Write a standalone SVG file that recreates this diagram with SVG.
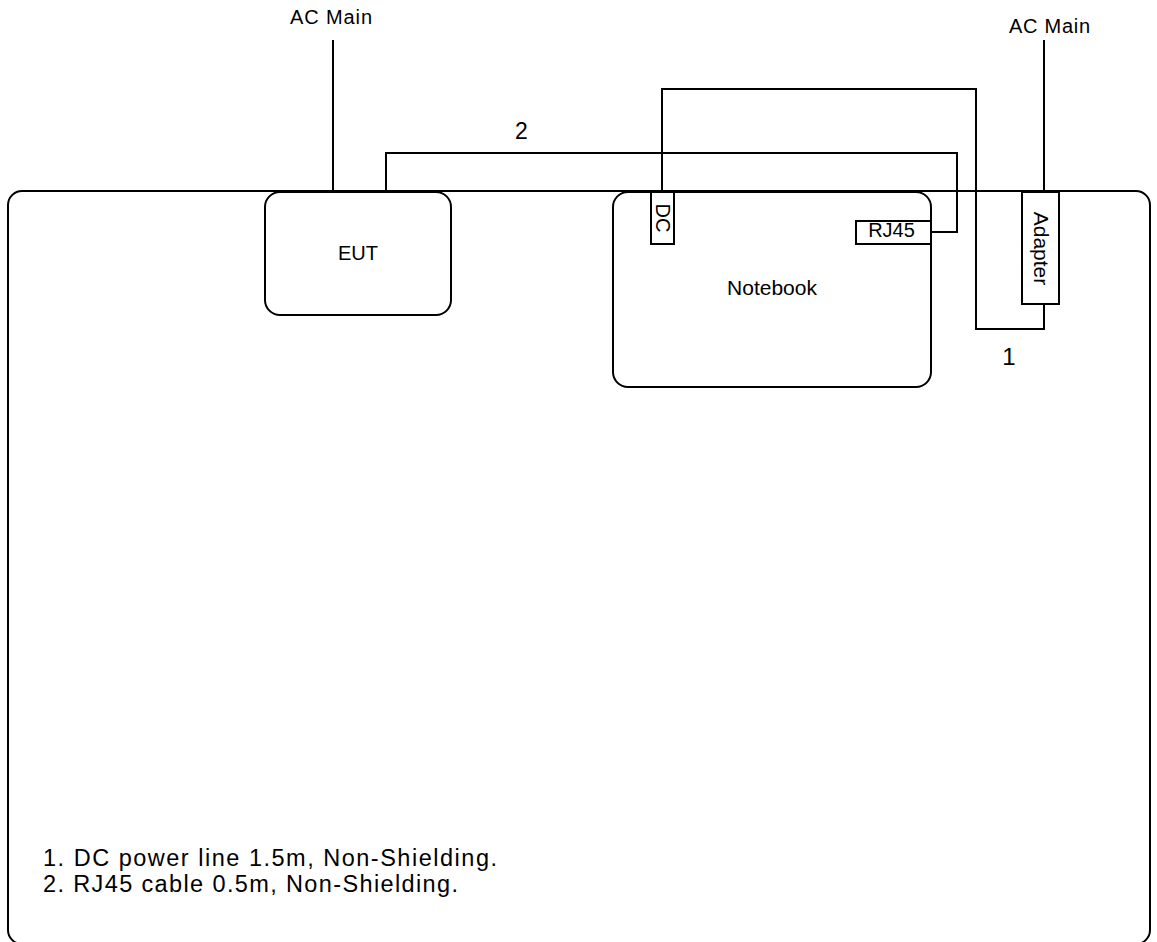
<svg xmlns="http://www.w3.org/2000/svg" width="1157" height="942" viewBox="0 0 1157 942">
<style>
.box{fill:#fff;stroke:#000;stroke-width:2}
.ln{fill:none;stroke:#000;stroke-width:2}
text{font-family:"Liberation Sans",Arial,sans-serif;fill:#000}
</style>
<rect width="1157" height="942" fill="#fff"/>
<g id="bench"><rect class="box" x="8" y="191" width="1142" height="753" rx="14"/></g>
<g id="eut"><rect class="box" x="265" y="192" width="186" height="123" rx="15"/><text x="358" y="260" font-size="20" text-anchor="middle">EUT</text></g>
<g id="notebook"><rect class="box" x="613" y="192" width="318" height="195" rx="15"/><text x="772" y="295" font-size="21" text-anchor="middle">Notebook</text></g>
<g id="dc-port"><rect class="box" x="651" y="192" width="23" height="52"/><text transform="translate(662.5,218) rotate(90)" x="0" y="7" font-size="20" text-anchor="middle">DC</text></g>
<g id="rj45-port"><rect class="box" x="856" y="221" width="75" height="23"/><text x="891.5" y="237" font-size="20" text-anchor="middle">RJ45</text></g>
<g id="adapter"><rect class="box" x="1022" y="192" width="37" height="112"/><text transform="translate(1041,248.5) rotate(90)" x="0" y="7" font-size="21" text-anchor="middle">Adapter</text></g>
<g id="connectors">
<path class="ln" d="M333 40V191"/>
<path class="ln" d="M1044 40V192"/>
<path class="ln" d="M931 232H957V153H386V191"/>
<path class="ln" d="M662 192V89H976V329H1044V304"/>
</g>
<g id="labels">
<text x="331" y="24" font-size="20" text-anchor="middle" textLength="82">AC Main</text>
<text x="1049.5" y="33" font-size="20" text-anchor="middle" textLength="81">AC Main</text>
<text x="521.5" y="139" font-size="23" text-anchor="middle">2</text>
<text x="1009" y="365" font-size="24" text-anchor="middle">1</text>
<text x="43" y="866" font-size="23.5" textLength="454">1. DC power line 1.5m, Non-Shielding.</text>
<text x="43" y="892" font-size="23.5" textLength="415">2. RJ45 cable 0.5m, Non-Shielding.</text>
</g>
</svg>
